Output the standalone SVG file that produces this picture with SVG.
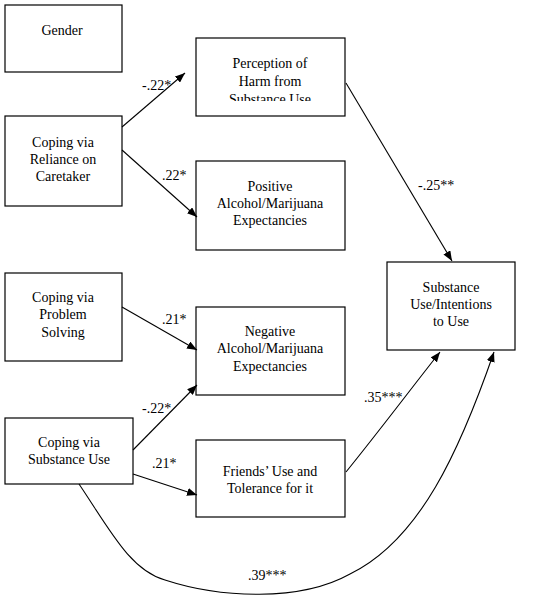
<svg xmlns="http://www.w3.org/2000/svg" width="548" height="600" viewBox="0 0 548 600">
<style>
.box{fill:#fff;stroke:#000;stroke-width:1.2}
.t{font-family:"Liberation Serif","Times New Roman",serif;font-size:14px;fill:#000;text-anchor:middle}
.l{font-family:"Liberation Serif","Times New Roman",serif;font-size:14px;fill:#000}
.c{fill:none;stroke:#000;stroke-width:1.1}
</style>
<defs>
<marker id="ah" viewBox="0 0 10 8" refX="10" refY="4" markerWidth="10" markerHeight="8" markerUnits="userSpaceOnUse" orient="auto">
<path d="M0,0 L10,4 L0,8 Z" fill="#000"/>
</marker>
<clipPath id="clipP"><rect x="196" y="38" width="149" height="63"/></clipPath>
</defs>
<rect width="548" height="600" fill="#fff"/>
<g id="gender"><rect class="box" x="5" y="5" width="117" height="67"/><text class="t" x="62" y="35">Gender</text></g>
<g id="perception"><rect class="box" x="196" y="38" width="149" height="78"/>
<g clip-path="url(#clipP)"><text class="t" x="270" y="68">Perception of</text><text class="t" x="270" y="86">Harm from</text><text class="t" x="270" y="104">Substance Use</text></g></g>
<g id="reliance"><rect class="box" x="5" y="116" width="117" height="90"/><text class="t" x="63" y="147">Coping via</text><text class="t" x="63" y="164">Reliance on</text><text class="t" x="63" y="181">Caretaker</text></g>
<g id="positive"><rect class="box" x="196" y="161" width="149" height="89"/><text class="t" x="270" y="191">Positive</text><text class="t" x="270" y="208">Alcohol/Marijuana</text><text class="t" x="270" y="225">Expectancies</text></g>
<g id="problem"><rect class="box" x="5" y="273" width="117" height="88"/><text class="t" x="63" y="302">Coping via</text><text class="t" x="63" y="319">Problem</text><text class="t" x="63" y="337">Solving</text></g>
<g id="negative"><rect class="box" x="196" y="307" width="149" height="88"/><text class="t" x="270" y="336">Negative</text><text class="t" x="270" y="353">Alcohol/Marijuana</text><text class="t" x="270" y="371">Expectancies</text></g>
<g id="outcome"><rect class="box" x="387" y="262" width="128" height="88"/><text class="t" x="451" y="292">Substance</text><text class="t" x="451" y="309">Use/Intentions</text><text class="t" x="451" y="326">to Use</text></g>
<g id="subuse"><rect class="box" x="5" y="418" width="128" height="66"/><text class="t" x="69" y="447">Coping via</text><text class="t" x="69" y="464">Substance Use</text></g>
<g id="friends"><rect class="box" x="196" y="440" width="149" height="77"/><text class="t" x="270" y="476">Friends’ Use and</text><text class="t" x="270" y="493">Tolerance for it</text></g>
<g id="connectors">
<line class="c" x1="122" y1="127" x2="185" y2="73" marker-end="url(#ah)"/>
<line class="c" x1="122" y1="150" x2="197" y2="217" marker-end="url(#ah)"/>
<line class="c" x1="346" y1="83" x2="452" y2="261" marker-end="url(#ah)"/>
<line class="c" x1="122" y1="307" x2="197" y2="350" marker-end="url(#ah)"/>
<line class="c" x1="133" y1="450" x2="197" y2="385" marker-end="url(#ah)"/>
<line class="c" x1="133" y1="474" x2="197" y2="495" marker-end="url(#ah)"/>
<path class="c" d="M346,472 C380,430 410,390 440,352" marker-end="url(#ah)"/>
<path class="c" d="M79,484 C110,530 130,570 165,580 C220,598 300,602 350,574 C420,540 460,450 494,352" marker-end="url(#ah)"/>
<text class="l" x="142" y="90">-.22*</text>
<text class="l" x="162" y="180">.22*</text>
<text class="l" x="418" y="190">-.25**</text>
<text class="l" x="162" y="324">.21*</text>
<text class="l" x="142" y="413">-.22*</text>
<text class="l" x="152" y="468">.21*</text>
<text class="l" x="364" y="402">.35***</text>
<text class="l" x="248" y="580">.39***</text>
</g>
</svg>
